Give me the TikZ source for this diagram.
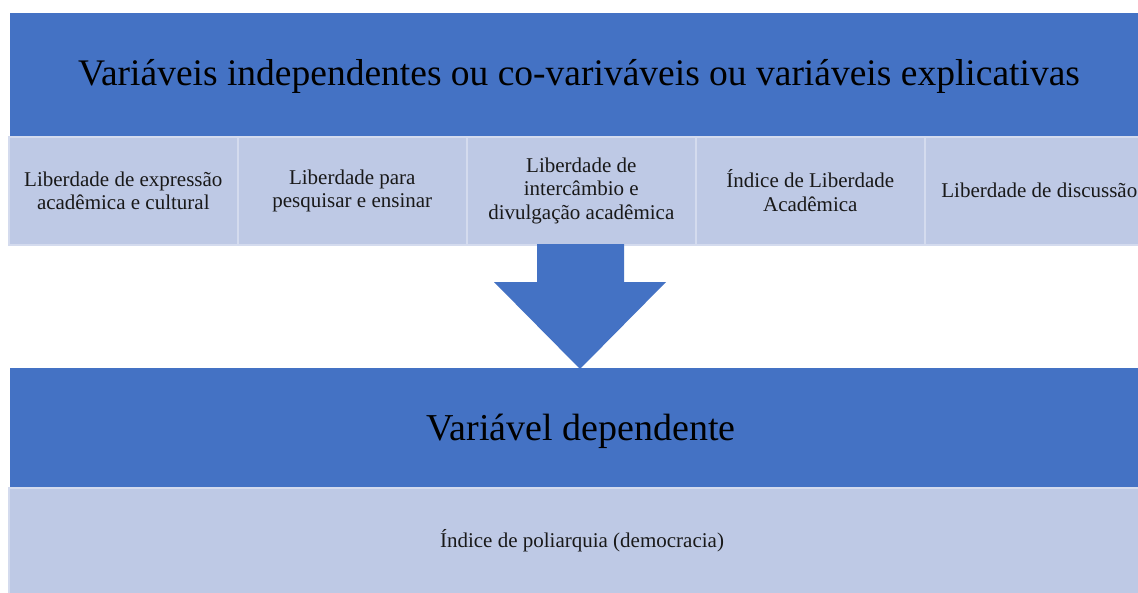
\documentclass[tikz,border=0pt]{standalone}
\usepackage{fontspec}
\setmainfont{Liberation Serif}
\definecolor{hdr}{HTML}{4472C4}
\definecolor{cell}{HTML}{BEC9E5}
\definecolor{cellline}{HTML}{D4DBEE}
\begin{document}
\begin{tikzpicture}[x=1pt,y=-1pt,
  hdrbox/.style={fill=hdr, draw=none, inner sep=0pt, anchor=north west},
  cellbox/.style={fill=cell, draw=cellline, line width=1.6pt, inner sep=0pt, anchor=north west,
     align=center, font=\fontsize{21}{23.5}\selectfont, text=black!90},
  bigtxt/.style={font=\fontsize{37.5}{42}\selectfont, text=black, inner sep=0pt}]
\useasboundingbox (0,0) rectangle (1138,592);
\clip (0,0) rectangle (1138,592);
\fill[white] (0,0) rectangle (1138,592);
% top header
\node[hdrbox, minimum width=1145pt, minimum height=123pt] (top) at (10,13) {};
\node[bigtxt] (toptxt) at (579,76) {Variáveis independentes ou co-variváveis ou variáveis explicativas};
% cells
\node[cellbox, minimum width=229pt, minimum height=108pt] (c1) at (8,136) {Liberdade de expressão\\acadêmica e cultural};
\node[cellbox, minimum width=229pt, minimum height=108pt] (c2) at (237,136) {Liberdade para\\pesquisar e ensinar};
\node[cellbox, minimum width=229pt, minimum height=108pt] (c3) at (466,136) {Liberdade de\\intercâmbio e\\divulgação acadêmica};
\node[cellbox, minimum width=229pt, minimum height=108pt] (c4) at (695,136) {Índice de Liberdade\\Acadêmica};
\node[cellbox, minimum width=229pt, minimum height=108pt] (c5) at (924,136) {Liberdade de discussão};
% arrow
\coordinate (a1) at (537,244);
\coordinate (a2) at (624,244);
\coordinate (a3) at (624,282);
\coordinate (a4) at (666,282);
\coordinate (tip) at (580,369);
\coordinate (a5) at (494,282);
\coordinate (a6) at (537,282);
\fill[hdr] (a1) -- (a2) -- (a3) -- (a4) -- (tip) -- (a5) -- (a6) -- cycle;
% bottom header
\node[hdrbox, minimum width=1145pt, minimum height=119pt] (bot) at (10,368) {};
\node[bigtxt, font=\fontsize{38}{42}\selectfont] (bottxt) at (581,431) {Variável dependente};
% bottom cell
\node[cellbox, minimum width=1145pt, minimum height=115pt] (dep) at (8,487) {};
\node[font=\fontsize{21}{24}\selectfont, text=black!90] (deptxt) at (582,541) {Índice de poliarquia (democracia)};
\end{tikzpicture}
\end{document}
